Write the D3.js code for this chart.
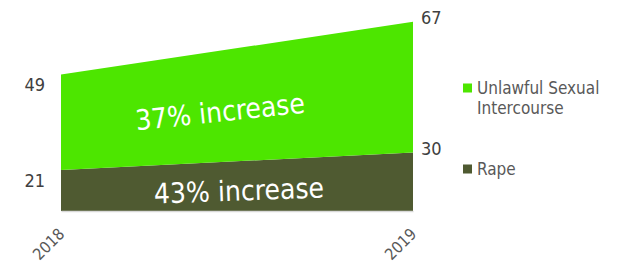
<!DOCTYPE html>
<html>
  <head>
  <title>Offences 2018-2019</title>
  </head>
  <body>
    <style>
        body, html {
          margin: 0;
          padding: 0;
          background: #fff;
        }
        svg text {
          font-family: "DejaVu Sans Condensed", "DejaVu Sans", sans-serif;
        }
      </style>

  <svg id="svg" width="619" height="268"></svg>

  <script src="https://d3js.org/d3.v7.min.js"></script>
  <script>
    // data
    const years = ['2018', '2019']
    const rape = [21, 30]
    const unlawful = [49, 67]
    const seriesNames = ['Rape', 'Unlawful Sexual Intercourse']
    const changeLabels = ['43% increase', '37% increase']

    const colors = ['#4f5a31', '#4de600']

    const width = 619
    const height = 268

    const rows = years.map((y, i) => ({ year: y, rape: rape[i], unlawful: unlawful[i] }))

    const stack = d3.stack().keys(['rape', 'unlawful'])
    const layers = stack(rows)

    const xscale = d3.scalePoint()
        .domain(years)
        .range([61, 413])

    const yscale = d3.scaleLinear()
        .domain([0, 100])
        .range([211, 16])

    const areagen = d3.area()
        .x(d => xscale(d.data.year))
        .y0(d => yscale(d[0]))
        .y1(d => yscale(d[1]))
        .curve(d3.curveLinear)

    const svg = d3.select('#svg')

    // the two stacked areas
    svg.append('g')
        .selectAll('path')
        .data(layers)
        .join('path')
        .attr('d', areagen)
        .attr('fill', (d, i) => colors[i])

    // bottom axis, only the light line and rotated years
    const bottomAxis = d3.axisBottom(xscale).tickSize(0).tickPadding(0)
    const axisG = svg.append('g')
        .attr('transform', `translate(0, ${yscale(0)})`)
        .call(bottomAxis)
    axisG.select('.domain')
        .attr('stroke', '#d9d9d9')
        .attr('stroke-width', 1.5)
    axisG.selectAll('text')
        .attr('font-size', 16)
        .attr('fill', '#595959')
        .attr('text-anchor', 'end')
        .attr('dy', null)
        .attr('transform', 'translate(4, 24) rotate(-45)')

    // value labels at the ends
    layers.forEach((layer, li) => {
        const vals = li === 0 ? rape : unlawful
        layer.forEach((d, i) => {
            const left = i === 0
            svg.append('text')
                .attr('x', left ? xscale(d.data.year) - 16 : xscale(d.data.year) + 8)
                .attr('y', yscale(d[1]) + (left ? 10 : -4))
                .attr('dominant-baseline', 'central')
                .attr('text-anchor', left ? 'end' : 'start')
                .attr('font-size', 18)
                .attr('fill', '#404040')
                .text(vals[i])
        })
    })

    // change labels inside the areas
    const midx = (xscale(years[0]) + xscale(years[1])) / 2
    const labelPos = [
        { x: midx + 2, y: 191, rot: -2 },
        { x: midx - 17, y: 112, rot: -6 }
    ]
    changeLabels.forEach((t, i) => {
        svg.append('text')
            .attr('transform', `translate(${labelPos[i].x}, ${labelPos[i].y}) rotate(${labelPos[i].rot})`)
            .attr('text-anchor', 'middle')
            .attr('dominant-baseline', 'central')
            .attr('font-size', 28)
            .attr('fill', '#ffffff')
            .text(t)
    })

    // legend, top series first
    const legend = svg.append('g')
        .attr('transform', 'translate(463, 0)')
    const legendY = [88, 169]
    const legendLines = [['Unlawful Sexual', 'Intercourse'], ['Rape']]
    ;[1, 0].forEach((si, k) => {
        legend.append('rect')
            .attr('x', 0)
            .attr('y', legendY[k] - 4.5)
            .attr('width', 9)
            .attr('height', 9)
            .attr('fill', colors[si])
        const txt = legend.append('text')
            .attr('x', 14)
            .attr('y', legendY[k])
            .attr('font-size', 17)
            .attr('fill', '#595959')
            .attr('dominant-baseline', 'central')
        legendLines[k].forEach((line, j) => {
            txt.append('tspan')
                .attr('x', 14)
                .attr('dy', j === 0 ? 0 : 20)
                .text(line)
        })
    })
  </script>
  </body>
</html>
